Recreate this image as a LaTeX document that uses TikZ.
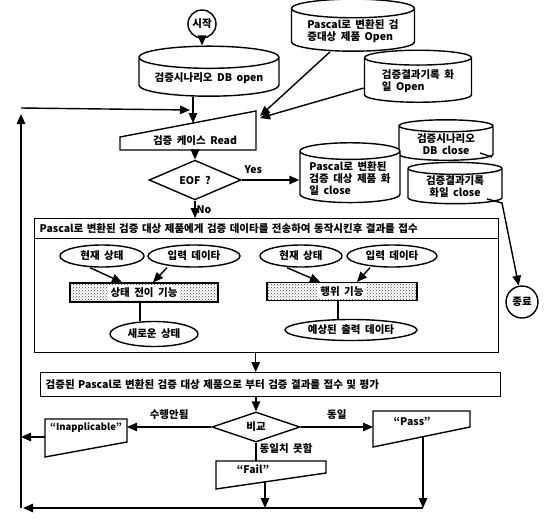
\documentclass[tikz,border=0pt]{standalone}
\usepackage{fontspec}
\setmainfont{Noto Sans CJK KR}
\usetikzlibrary{shapes.geometric,arrows.meta,patterns,calc}
\newcommand\widesp{\spaceskip=4.5pt\relax}

\begin{document}
\begin{tikzpicture}[x=1pt, y=-1pt, line width=1.4pt,
    every node/.style={font=\fontsize{10.5pt}{12pt}\selectfont\bfseries\widesp, inner sep=1pt},
    flow/.style={-{Triangle[length=10pt,width=8.5pt]}},
    db/.style={cylinder, shape border rotate=90, draw, fill=white, aspect=0.2, align=left},
    term/.style={circle, draw, minimum size=28pt, inner sep=0pt},
    dec/.style={diamond, draw, inner sep=0pt},
    state/.style={ellipse, draw, inner sep=0pt},
    func/.style={rectangle, draw, pattern=crosshatch dots, pattern color=black!75},
    box/.style={rectangle, draw, anchor=north west, inner xsep=5pt, inner ysep=2pt, align=left}]
    \useasboundingbox (0,0) rectangle (547,520);

    % Start and DB open
    \node[term] (start) at (202,24) {시작};
    \node[db, minimum width=140pt, minimum height=50pt] (dbopen) at (209,78) {검증시나리오 DB open};
    \node[db, minimum width=123pt, minimum height=48pt] (pasopen) at (353,31) {Pascal로 변환된 검\\증대상 제품 Open};
    \node[db, minimum width=107pt, minimum height=52pt] (resopen) at (418,81) {검증결과기록 화\\일 Open};

    % 검증 케이스 Read (manual input)
    \coordinate (read-sw) at (120,150);
    \coordinate (read-se) at (256,150);
    \coordinate (read-ne) at (256,111);
    \coordinate (read-nw) at (120,137);
    \draw (read-sw) -- (read-se) -- (read-ne) -- (read-nw) -- cycle;
    \node (read) at (195,141) {검증 케이스 Read};
    \coordinate (readin) at (193,123);
    \coordinate (loopin) at (190,110);

    \draw[flow] (start) -- (start |- dbopen.north);
    \draw[flow] (dbopen.south -| readin) -- (readin);
    \draw[flow] ([xshift=-23pt]pasopen.south) -- ([shift={(4pt,-5pt)}]read-ne);
    \draw[flow] ([yshift=-7pt]resopen.west) -- ([shift={(4pt,-7pt)}]read-ne);

    % EOF
    \node[dec, minimum width=92pt, minimum height=36pt] (eof) at (195,180) {EOF ?};
    \draw[flow] (read-sw -| eof) -- (eof.north);

    % Close
    \node[db, minimum width=94pt, minimum height=38pt, align=center] (dbclose) at (446,144) {검증시나리오\\DB close};
    \node[db, minimum width=94pt, minimum height=41pt, align=center] (resclose) at (455,187) {검증결과기록\\화일 close};
    \node[db, minimum width=100pt, minimum height=53pt] (pasclose) at (350,178) {Pascal로 변환된\\검증 대상 제품 화\\일 close};
    \node[term, minimum size=32pt] (stop) at (522,302) {종료};

    \draw[flow] (eof.east) -- (eof.east -| pasclose.west) node[pos=0.2, above=5pt] {Yes};
    \draw (480,153) -- (492,157);
    \draw[flow] (487,199) -- (502,203) -- (stop);

    % Process block
    \node[box, text width=454pt, minimum height=134pt] (task) at (34,218) {};
    \node[box, text width=454pt, minimum height=20pt] (taskhead) at (34,218)
        {Pascal로 변환된 검증 대상 제품에게 검증 데이타를 전송하여 동작시킨후 결과를 접수};
    \draw[flow] (eof.south) -- (eof.south |- task.north) node[midway, right] {No};

    % 상태 전이 기능
    \node[state, minimum width=84pt, minimum height=22pt] (cur1) at (102,256) {현재 상태};
    \node[state, minimum width=92pt, minimum height=22pt] (in1) at (194,256) {입력 데이타};
    \node[func, minimum width=148pt, minimum height=19pt] (stf) at (144,292.5) {\colorbox{white}{상태 전이 기능}};
    \node[state, minimum width=88pt, minimum height=25pt] (new1) at (154,334) {새로운 상태};
    \draw[flow] ([xshift=-12pt]cur1.south) -- ([xshift=-22pt]stf.north);
    \draw[flow] ([xshift=-27pt]in1.south) -- ([xshift=9pt]stf.north);
    \draw ([xshift=-4pt]stf.south) -- ([xshift=-4pt]stf.south |- new1.north);

    % 행위 기능
    \node[state, minimum width=82pt, minimum height=22pt] (cur2) at (301,256) {현재 상태};
    \node[state, minimum width=90pt, minimum height=22pt] (in2) at (392,256) {입력 데이타};
    \node[func, minimum width=150pt, minimum height=17pt] (beh) at (342,291.5) {\colorbox{white}{행위 기능}};
    \node[state, minimum width=132pt, minimum height=21pt] (out2) at (351,330) {예상된 출력 데이타};
    \draw[flow] ([xshift=-14pt]cur2.south) -- ([xshift=-22pt]beh.north);
    \draw[flow] ([xshift=-22pt]in2.south) -- ([xshift=15pt]beh.north);
    \draw ([xshift=-4pt]beh.south) -- ([xshift=-4pt]beh.south |- out2.north);

    % Evaluation
    \node[box, text width=450pt, minimum height=24pt] (eval) at (40,372)
        {검증된 Pascal로 변환된 검증 대상 제품으로 부터 검증 결과를 접수 및 평가};
    \draw[flow] ([xshift=-11pt]task.south) -- ([xshift=-11pt]task.south |- eval.north);
    \node[dec, minimum width=88pt, minimum height=30pt] (cmp) at (256,427) {비교};
    \draw[flow] (eval.south -| cmp) -- (cmp.north);

    % "Inapplicable"
    \draw (45,419) -- (127,419) -- (127,442) -- (45,457) -- cycle;
    \node[font=\fontsize{9.5pt}{11pt}\selectfont\bfseries] (na) at (86,428) {“Inapplicable”};
    \coordinate (na-e) at (127,427);
    \coordinate (na-w) at (45,437);
    \draw[flow] (cmp.west) -- (na-e) node[midway, above=6pt] {수행안됨};

    % "Pass"
    \draw (373,411) -- (470,411) -- (470,427) -- (373,447) -- cycle;
    \node (pass) at (412,421) {“Pass”};
    \coordinate (pass-w) at (373,427);
    \coordinate (pass-out) at (423,437);
    \draw[flow] (cmp.east) -- (pass-w) node[midway, above=6pt] {동일};

    % "Fail"
    \draw (216,461) -- (326,461) -- (326,473) -- (216,489) -- cycle;
    \node (fail) at (253,469) {“Fail”};
    \coordinate (fail-in) at (256,461);
    \coordinate (fail-out) at (265,482);
    \draw (cmp.south) -- (fail-in);
    \node[anchor=west] at (258,449) {동일치 못함};

    % Loop back
    \coordinate (loop-br) at (423,508);
    \coordinate (loop-bl) at (21,508);
    \coordinate (loop-tl) at (21,108);
    \draw[flow] (fail-out) -- (fail-out |- loop-br);
    \draw[flow] (pass-out) -- (loop-br);
    \draw[flow] (loop-br) -- ([xshift=2pt]loop-bl);
    \draw[flow] (na-w) -- (na-w -| loop-bl);
    \draw[flow] (loop-bl) -- ([yshift=-6pt]loop-tl);
    \draw[flow] (loop-tl) -- (loopin);
\end{tikzpicture}
\end{document}
